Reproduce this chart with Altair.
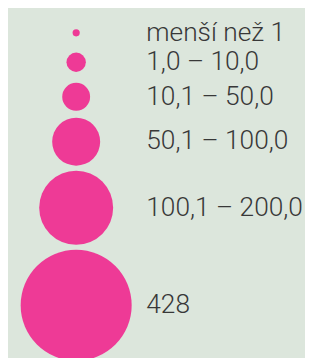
import math
import altair as alt
import pandas as pd

# Legend entries (category labels) and the representative value each circle stands for
labels = ["menší než 1", "1,0 – 10,0", "10,1 – 50,0", "50,1 – 100,0", "100,1 – 200,0", "428"]
values = [1.8, 13, 27, 80, 190, 428]
order = list(range(len(labels)))

# Layout / style constants
PINK = "#ee3a96"
BG = "#dce6dc"
TEXT = "#383838"
MAX_VALUE = max(values)
MAX_DIAM = 114
MAX_SIZE = MAX_DIAM ** 2  # Vega circle size = diameter squared
W, H = 305, 350
CX = 70

df = pd.DataFrame({"order": order, "label": labels, "value": values})

base = alt.Chart(df)

y_enc = alt.Y("yc:Q", scale=alt.Scale(domain=[0, H], reverse=True, nice=False, zero=False), axis=None)

circles = base.mark_circle(color=PINK, opacity=1).encode(
    x=alt.value(CX),
    y=y_enc,
    size=alt.Size("value:Q", scale=alt.Scale(domain=[0, MAX_VALUE], range=[0, MAX_SIZE]), legend=None),
)

texts = base.mark_text(
    align="left", baseline="middle", dx=72, dy=0,
    font="Roboto Light, Roboto", fontSize=27, fontWeight=300, color=TEXT,
).encode(
    x=alt.value(CX),
    y=y_enc,
    text="label:N",
)

chart = alt.layer(circles, texts).transform_calculate(
    d=f"{MAX_DIAM} * sqrt(datum.value / {MAX_VALUE})"
).transform_calculate(
    h="max(0.5*datum.d + 23.4, datum.d + 5.2)"
).transform_window(
    cum="sum(h)", sort=[alt.SortField("order")], frame=[None, 0]
).transform_calculate(
    yc="7.2 + datum.cum - datum.h/2"
).properties(
    width=W, height=H, padding=0, autosize="none", background=BG
).configure_view(stroke=None)

chart.save("out.html", embed_options={"renderer": "svg", "actions": False})
